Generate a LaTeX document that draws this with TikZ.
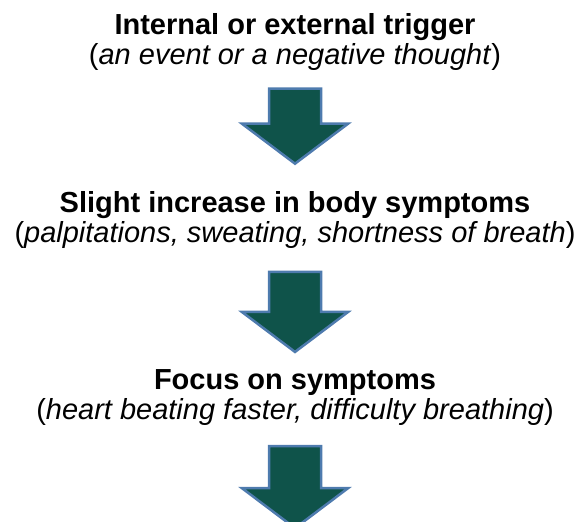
\documentclass[tikz,border=0pt]{standalone}
\usepackage{fontspec}
\setmainfont{Liberation Sans}
\usetikzlibrary{positioning,shapes.arrows}
\definecolor{arrowfill}{HTML}{0F534A}
\definecolor{arrowedge}{HTML}{4E7BAE}
\tikzset{
  stepblock/.style={
    align=center, inner sep=0pt,
    font=\fontsize{29}{30}\selectfont
  },
  downarrow/.style={
    single arrow, shape border rotate=270,
    draw=arrowedge, fill=arrowfill, line width=2.5pt,
    inner sep=24.75pt, minimum height=#1,
    single arrow head extend=27.25pt, single arrow head indent=0pt,
    single arrow tip angle=106
  },
  downarrow/.default=75pt
}

\begin{document}
\begin{tikzpicture}[node distance=18pt]

% frame of the page
\useasboundingbox (0,0) rectangle (582pt,-522pt);
\clip (0,0) rectangle (582pt,-522pt);

% steps
\node[stepblock, anchor=north] (trigger) at (295pt,-13pt)
  {\textbf{Internal or external trigger}\\(\textit{an event or a negative thought})};
\node[downarrow, below=17pt of trigger] (arr1) {};

\node[stepblock, below=26pt of arr1] (increase)
  {\textbf{Slight increase in body symptoms}\\(\textit{palpitations, sweating, shortness of breath})};
\node[downarrow=80pt, below=22pt of increase] (arr2) {};

\node[stepblock, below=16pt of arr2] (focus)
  {\textbf{Focus on symptoms}\\(\textit{heart beating faster, difficulty breathing})};
\node[downarrow=82pt, below=19pt of focus] (arr3) {};

\end{tikzpicture}
\end{document}
